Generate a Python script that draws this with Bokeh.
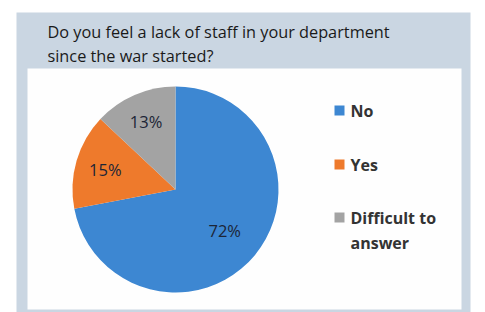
import numpy as np
from bokeh.plotting import figure
from bokeh.models import Range1d, ColumnDataSource
from bokeh.core.properties import value
from bokeh.embed import file_html
from bokeh.resources import INLINE

title_lines = ["Do you feel a lack of staff in your department", "since the war started?"]
categories = ["No", "Yes", "Difficult to answer"]
legend_lines = [["No"], ["Yes"], ["Difficult to", "answer"]]
shares = [72, 15, 13]
colors = ["#3d87d2", "#ee7a2c", "#a3a3a3"]

W, H = 485, 312
p = figure(width=W, height=H, output_backend="svg", toolbar_location=None,
           x_range=Range1d(0, W), y_range=Range1d(0, H),
           min_border=0)
p.axis.visible = False
p.grid.visible = False
p.outline_line_color = None
p.background_fill_color = "white"
p.border_fill_color = "white"

def Y(py):
    return 312 - py

FONT = "Open Sans"
# panels
p.quad(left=[16], right=[470], bottom=[Y(314)], top=[Y(12)], fill_color="#cad6e2", line_color=None)
p.quad(left=[27], right=[461], bottom=[Y(309)], top=[Y(68)], fill_color="#fefefe", line_color=None)

# title
for i, t in enumerate(title_lines):
    p.text(x=[47], y=[Y(31 + i * 24)], text=[t], text_font=value(FONT),
           text_font_size="16.3px", text_color="#1a1a1a", text_baseline="middle",
           text_font_style="normal")

# pie
cx, cy, r = 175, Y(189), 103
fr = np.array(shares, dtype=float) / sum(shares)
cum = np.concatenate([[0], np.cumsum(fr)])
start = np.pi / 2 - cum[1:] * 2 * np.pi
end = np.pi / 2 - cum[:-1] * 2 * np.pi
src = ColumnDataSource(dict(start=start, end=end, color=colors))
p.wedge(x=cx, y=cy, radius=r, start_angle="start", end_angle="end",
        fill_color="color", line_color=None, source=src)

mid = (start + end) / 2
lr = [0.62, 0.71, 0.72]
lx = cx + np.array(lr) * r * np.cos(mid)
ly = cy + np.array(lr) * r * np.sin(mid)
p.text(x=lx, y=ly, text=[f"{s}%" for s in shares], text_font=value(FONT),
       text_font_size="16.5px", text_color="#1c2536", text_align="center",
       text_baseline="middle")

# legend
leg_y = [110, 164, 217]
for i, lines in enumerate(legend_lines):
    p.rect(x=[339], y=[Y(leg_y[i])], width=10, height=10, fill_color=colors[i], line_color=None)
    for j, t in enumerate(lines):
        p.text(x=[350], y=[Y(leg_y[i] + j * 25)], text=[t], text_font=value(FONT),
               text_font_size="16px", text_font_style="bold", text_color="#333333",
               text_baseline="middle")

open("out.html", "w").write(file_html(p, INLINE))
